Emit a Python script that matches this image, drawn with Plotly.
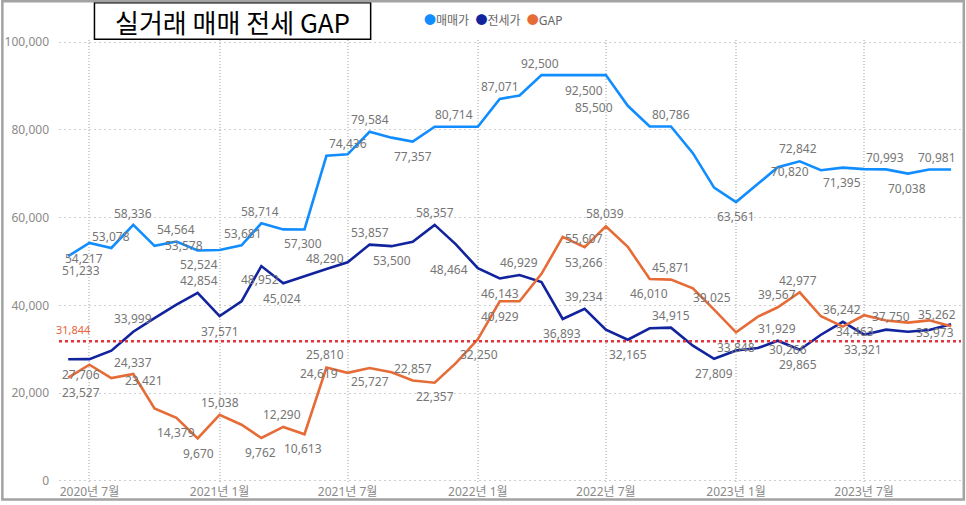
import plotly.graph_objects as go

months = ['2020-06-01','2020-07-01','2020-08-01','2020-09-01','2020-10-01','2020-11-01','2020-12-01',
          '2021-01-01','2021-02-01','2021-03-01','2021-04-01','2021-05-01','2021-06-01','2021-07-01',
          '2021-08-01','2021-09-01','2021-10-01','2021-11-01','2021-12-01','2022-01-01','2022-02-01',
          '2022-03-01','2022-04-01','2022-05-01','2022-06-01','2022-07-01','2022-08-01','2022-09-01',
          '2022-10-01','2022-11-01','2022-12-01','2023-01-01','2023-02-01','2023-03-01','2023-04-01',
          '2023-05-01','2023-06-01','2023-07-01','2023-08-01','2023-09-01','2023-10-01','2023-11-01']

sale = [51233, 54217, 53078, 58336, 53578, 54564, 52524, 52609, 53681, 58714, 57314, 57300,
        74100, 74436, 79584, 78240, 77357, 80714, 80714, 80714, 87071, 87850, 92500, 92500,
        92500, 92500, 85500, 80786, 80786, 74700, 66834, 63561, 67700, 71496, 72842, 70820,
        71395, 71071, 70993, 70038, 70981, 70981]

jeonse = [27706, 27750, 29657, 33999, 37100, 40185, 42854, 37571, 40900, 48952, 45024, 46687,
          48290, 49817, 53857, 53500, 54500, 58357, 53900, 48464, 46143, 46929, 45320, 36893,
          39234, 34461, 32165, 34776, 34915, 30800, 27809, 29713, 30266, 31929, 29865, 33300,
          36242, 33321, 34463, 33973, 34400, 35719]

gap = [23527, 26467, 23421, 24337, 16478, 14379, 9670, 15038, 12781, 9762, 12290, 10613,
       25810, 24619, 25727, 24740, 22857, 22357, 26814, 32250, 40929, 40921, 47180, 55607,
       53266, 58039, 53335, 46010, 45871, 43900, 39025, 33848, 37434, 39567, 42977, 37520,
       35153, 37750, 36530, 36065, 36581, 35262]

ref_value = 31844

series_names = ['매매가', '전세가', 'GAP']
tick_vals = ['2020-07-01', '2021-01-01', '2021-07-01', '2022-01-01', '2022-07-01', '2023-01-01', '2023-07-01']
tick_text = ['2020년 7월', '2021년 1월', '2021년 7월', '2022년 1월', '2022년 7월', '2023년 1월', '2023년 7월']
y_ticks = [0, 20000, 40000, 60000, 80000, 100000]
title_text = '실거래 매매 전세 GAP'

# ---- style ----
colors = ['#118DFF', '#12239E', '#E66C37']
FONT = 'Noto Sans, Noto Sans CJK KR, sans-serif'
LABEL_COLOR = '#767676'
AXIS_COLOR = '#8a8a8a'

# label offsets (dx, dy) in px: dy positive = downward
sale_lbl = {0: (13, 14), 1: (-5, 15), 2: (0, -12), 3: (0, -11), 4: (29, 0), 5: (0, -12), 6: (1, 14),
            8: (1, -12), 9: (-1, -12), 11: (-1, 14), 13: (0, -11), 14: (0, -12), 16: (0, 14.5),
            18: (-2, -12), 20: (0, -12), 22: (-1, -12), 25: (-22, 15), 26: (-34, 2), 28: (0, -12),
            31: (0, 14.5), 35: (-31, 1.5), 34: (-1.5, -13), 36: (-1, 15), 38: (-1, -12),
            39: (-1, 15), 40: (8, -12)}
jeonse_lbl = {0: (13, 15), 3: (0, -13), 6: (1, -12), 7: (0, 15), 9: (-1, 13.5), 10: (-1, 15),
              12: (-1, -11), 14: (0, -12), 15: (0, 14.5), 17: (0, -12), 19: (-29, 1), 20: (0, 15),
              21: (-1, -12), 23: (-1, 15), 24: (-1, -12), 26: (0, 14.5), 28: (0, -12.5),
              30: (0, 14.5), 32: (30, 1), 33: (-1, -12), 34: (-1.5, 14.3), 36: (-1, -12.6),
              37: (-1, 14.5), 38: (-31, 2), 39: (27.5, 1)}
gap_lbl = {0: (13, 15), 2: (33, 2), 3: (0, -12), 5: (0, 15), 6: (1, 15), 7: (0, -12), 9: (-1, 15),
           10: (-1, -12.5), 11: (-1, 14.5), 12: (-1, -13.6), 13: (-29, 1), 14: (0, 14),
           16: (0, -11.6), 17: (0, 14), 19: (1, 15), 20: (0, 15), 23: (21, 2), 24: (-1, 15),
           25: (-1, -12.6), 27: (-1, 14.7), 28: (0, -12), 30: (-2, -12), 31: (0, 15),
           33: (-1, -13), 34: (-1.5, -12), 37: (27, 1), 41: (-14, -12)}

W, H = 966, 505
L, R, T, B = 58, 5, 40, 20
PW, PH = W - L - R, H - T - B


def px_x(px):
    return (px - L) / PW


def px_y(py):
    return (H - B - py) / PH


fig = go.Figure()
all_series = [sale, jeonse, gap]
for name, vals, col in zip(series_names, all_series, colors):
    fig.add_trace(go.Scatter(x=months, y=vals, mode='lines', name=name,
                             line=dict(color=col, width=2.6), showlegend=False,
                             hoverinfo='x+y'))

annotations = []
for vals, lbl in zip(all_series, [sale_lbl, jeonse_lbl, gap_lbl]):
    for i, (dx, dy) in lbl.items():
        annotations.append(dict(x=months[i], y=vals[i], text=f'{vals[i]:,}', showarrow=False,
                                xshift=dx, yshift=-dy, xanchor='center', yanchor='middle',
                                font=dict(family=FONT, size=12, color=LABEL_COLOR)))

# reference line label
annotations.append(dict(xref='paper', x=px_x(73), y=ref_value, text=f'{ref_value:,}',
                        showarrow=False, xanchor='center', yanchor='middle', yshift=12,
                        font=dict(family=FONT, size=11, color='#E8643C')))

# title
annotations.append(dict(xref='paper', yref='paper', x=px_x(232), y=px_y(21.5), text=title_text,
                        showarrow=False, xanchor='center', yanchor='middle',
                        font=dict(family='Noto Sans CJK KR, sans-serif', size=26, color='#000000')))

# legend
leg_parts = []
for name, col in zip(series_names, colors):
    leg_parts.append(f'<span style="color:{col}">●</span>{name}')
annotations.append(dict(xref='paper', yref='paper', x=px_x(421), y=px_y(20.5),
                        text='  '.join(leg_parts), showarrow=False, xanchor='left', yanchor='middle',
                        font=dict(family='Noto Sans, Noto Sans CJK KR, DejaVu Sans', size=12, color='#666666')))

shapes = [
    # reference (constant) line
    dict(type='line', xref='paper', x0=0, x1=1, yref='y', y0=ref_value, y1=ref_value,
         line=dict(color='#E3343C', width=2.5, dash='dot'), layer='above'),
    # title box
    dict(type='rect', xref='paper', yref='paper', x0=px_x(93.5), x1=px_x(370), y0=px_y(39.3), y1=px_y(2.7),
         line=dict(color='#000000', width=1.5), fillcolor='white', layer='above'),
    # outer border
    dict(type='rect', xref='paper', yref='paper', x0=px_x(1.3), x1=px_x(963.8), y0=px_y(501.5), y1=px_y(1.0),
         line=dict(color='#A3A3A3', width=2.5), fillcolor='rgba(0,0,0,0)', layer='above'),
]

fig.update_layout(
    width=W, height=H,
    margin=dict(l=L, r=R, t=T, b=B),
    plot_bgcolor='white', paper_bgcolor='white',
    font=dict(family=FONT, size=12, color=AXIS_COLOR),
    showlegend=False,
    annotations=annotations,
    shapes=shapes,
    xaxis=dict(type='date', range=['2020-05-19', '2023-11-15'], tickvals=tick_vals, ticktext=tick_text,
               showgrid=True, gridcolor='#cfcfcf', gridwidth=2, griddash='1px,2px',
               zeroline=False, showline=False, ticks='',
               tickfont=dict(family=FONT, size=12, color=AXIS_COLOR)),
    yaxis=dict(range=[-500, 100500], tickvals=y_ticks, tickformat=',d',
               showgrid=True, gridcolor='#cfcfcf', gridwidth=1, griddash='2px,3px',
               zeroline=False, showline=False, ticks='', ticklabelstandoff=9,
               tickfont=dict(family=FONT, size=12, color=AXIS_COLOR)),
)

fig.write_html('out.html', config={'displayModeBar': False},
               post_script="document.body.style.margin='0';document.body.style.overflow='hidden';")
